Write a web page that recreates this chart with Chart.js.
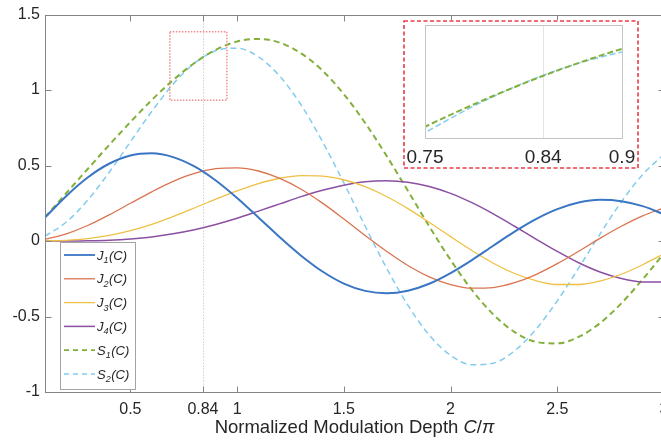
<!DOCTYPE html>
<html>
<head>
<meta charset="utf-8">
<script src="https://cdn.jsdelivr.net/npm/chart.js@4.4.1/dist/chart.umd.min.js"></script>
<style>
  html, body { margin: 0; padding: 0; background: #fff; overflow: hidden; }
  #wrap { position: relative; width: 670px; height: 446px; }
  #main { position: absolute; left: 0; top: 0; }
  #inset { position: absolute; left: 403px; top: 20px; }
</style>
</head>
<body>
<div id="wrap">
  <canvas id="main" width="670" height="446"></canvas>
  <canvas id="inset" width="236" height="149"></canvas>
</div>
<script>
// normalized modulation depth C/pi
const depth = [0.1, 0.2, 0.3, 0.4, 0.5, 0.6, 0.7, 0.8, 0.9, 1.0,
               1.1, 1.2, 1.3, 1.4, 1.5, 1.6, 1.7, 1.8, 1.9, 2.0,
               2.1, 2.2, 2.3, 2.4, 2.5, 2.6, 2.7, 2.8, 2.9, 3.0];

const j1 = [0.155, 0.299, 0.421, 0.512, 0.567, 0.581, 0.556, 0.494, 0.401, 0.285,
            0.156, 0.025, -0.097, -0.202, -0.282, -0.330, -0.346, -0.329, -0.283, -0.212,
            -0.126, -0.031, 0.062, 0.145, 0.211, 0.255, 0.273, 0.264, 0.231, 0.177];
const j2 = [0.012, 0.048, 0.103, 0.173, 0.250, 0.326, 0.395, 0.448, 0.479, 0.485,
            0.464, 0.415, 0.343, 0.251, 0.146, 0.037, -0.068, -0.162, -0.237, -0.288,
            -0.312, -0.308, -0.276, -0.222, -0.150, -0.068, 0.018, 0.098, 0.167, 0.219];
const j3 = [0.001, 0.005, 0.016, 0.037, 0.069, 0.111, 0.162, 0.219, 0.278, 0.333,
            0.381, 0.416, 0.433, 0.430, 0.406, 0.360, 0.295, 0.215, 0.124, 0.029,
            -0.063, -0.147, -0.215, -0.263, -0.288, -0.288, -0.265, -0.220, -0.157, -0.084];
const j4 = [0.000, 0.000, 0.002, 0.006, 0.014, 0.027, 0.048, 0.075, 0.110, 0.151,
            0.198, 0.246, 0.294, 0.336, 0.370, 0.393, 0.400, 0.390, 0.361, 0.316,
            0.254, 0.180, 0.098, 0.013, -0.069, -0.144, -0.205, -0.248, -0.271, -0.272];
const s1 = [0.159, 0.318, 0.477, 0.635, 0.788, 0.934, 1.066, 1.179, 1.267, 1.322,
            1.339, 1.314, 1.243, 1.129, 0.973, 0.782, 0.565, 0.333, 0.098, -0.125,
            -0.324, -0.486, -0.603, -0.668, -0.678, -0.635, -0.544, -0.413, -0.254, -0.081];
const s2 = [0.032, 0.126, 0.271, 0.454, 0.657, 0.858, 1.039, 1.178, 1.261, 1.277,
            1.220, 1.092, 0.901, 0.659, 0.385, 0.098, -0.179, -0.425, -0.623, -0.757,
            -0.820, -0.809, -0.727, -0.585, -0.396, -0.179, 0.046, 0.259, 0.440, 0.575];

// zoomed window around the working point
const insetDepth = [0.70, 0.75, 0.80, 0.85, 0.90, 0.95];
const insetS1 = [1.0660, 1.1254, 1.1793, 1.2267, 1.2668, 1.2989];
const insetS2 = [1.0385, 1.1144, 1.1780, 1.2273, 1.2610, 1.2777];

const xTickVals = [0.5, 0.84, 1, 1.5, 2, 2.5, 3];
const yTickVals = [-1, -0.5, 0, 0.5, 1, 1.5];
const insetTickVals = [0.75, 0.84, 0.9];
const markDepth = 0.84;
const zoomBox = [0.685, 0.952, 0.932, 1.386]; // x0, x1, y0, y1 in data units

const seriesNames = [['J', '1'], ['J', '2'], ['J', '3'], ['J', '4'], ['S', '1'], ['S', '2']];

const FONT = "'Liberation Sans', Arial, sans-serif";
Chart.defaults.font.family = FONT;
Chart.defaults.color = '#262626';

const pts = (xs, ys) => xs.map((x, i) => ({ x: x, y: ys[i] }));

const lineStyle = [
  { color: '#3b76c4', width: 2.0, dash: [] },
  { color: '#da7450', width: 1.3, dash: [] },
  { color: '#eec044', width: 1.3, dash: [] },
  { color: '#8b50a2', width: 1.5, dash: [] },
  { color: '#82b03a', width: 2.0, dash: [6, 4] },
  { color: '#84ccef', width: 1.5, dash: [6, 4] }
];

const mainData = [j1, j2, j3, j4, s1, s2];

// box, inward ticks, guide line, zoom marker, legend, axis title
const frame = {
  id: 'frame',
  beforeDatasetsDraw(chart) {
    const { ctx, chartArea: a, scales: { x } } = chart;
    const px = Math.round(x.getPixelForValue(markDepth)) + 0.5;
    ctx.save();
    ctx.strokeStyle = '#b8b8b8';
    ctx.lineWidth = 1;
    ctx.setLineDash([1, 2]);
    ctx.beginPath();
    ctx.moveTo(px, a.top);
    ctx.lineTo(px, a.bottom);
    ctx.stroke();
    ctx.restore();
  },
  afterDatasetsDraw(chart) {
    const { ctx, chartArea: a, scales: { x, y } } = chart;
    ctx.save();

    // zoom marker
    const zx0 = x.getPixelForValue(zoomBox[0]), zx1 = x.getPixelForValue(zoomBox[1]);
    const zy0 = y.getPixelForValue(zoomBox[2]), zy1 = y.getPixelForValue(zoomBox[3]);
    ctx.strokeStyle = '#f08c8c';
    ctx.lineWidth = 1.5;
    ctx.setLineDash([1.5, 1.5]);
    ctx.strokeRect(zx0, zy1, zx1 - zx0, zy0 - zy1);
    ctx.setLineDash([]);

    // axes box
    ctx.strokeStyle = '#858585';
    ctx.lineWidth = 1;
    const L = Math.round(a.left) + 0.5, R = Math.round(a.right) + 0.5;
    const T = Math.round(a.top) + 0.5, B = Math.round(a.bottom) + 0.5;
    ctx.strokeRect(L, T, R - L, B - T);
    const tl = 6;
    ctx.beginPath();
    xTickVals.forEach(v => {
      const px = Math.round(x.getPixelForValue(v)) + 0.5;
      ctx.moveTo(px, B); ctx.lineTo(px, B - tl);
      ctx.moveTo(px, T); ctx.lineTo(px, T + tl);
    });
    yTickVals.forEach(v => {
      const py = Math.round(y.getPixelForValue(v)) + 0.5;
      ctx.moveTo(L, py); ctx.lineTo(L + tl, py);
      ctx.moveTo(R, py); ctx.lineTo(R - tl, py);
    });
    ctx.stroke();

    // legend
    const lx = 60.5, ly = 242.5, lw = 75, lh = 147;
    ctx.fillStyle = '#ffffff';
    ctx.fillRect(lx, ly, lw, lh);
    ctx.strokeStyle = '#a3a3a3';
    ctx.strokeRect(lx, ly, lw, lh);
    chart.data.datasets.forEach((ds, i) => {
      const cy = 255 + i * 23.8;
      ctx.strokeStyle = ds.borderColor;
      ctx.lineWidth = Math.min(ds.borderWidth, 1.8);
      ctx.setLineDash(ds.borderDash.length ? [5, 4] : []);
      ctx.beginPath();
      ctx.moveTo(64, cy); ctx.lineTo(95, cy);
      ctx.stroke();
      ctx.setLineDash([]);
      const [sym, sub] = seriesNames[i];
      ctx.fillStyle = '#262626';
      ctx.textBaseline = 'alphabetic';
      ctx.textAlign = 'left';
      let tx = 97;
      ctx.font = 'italic 13px ' + FONT;
      ctx.fillText(sym, tx, cy + 4.5);
      tx += ctx.measureText(sym).width;
      ctx.font = 'italic 9px ' + FONT;
      ctx.fillText(sub, tx, cy + 8);
      tx += ctx.measureText(sub).width + 0.5;
      ctx.font = 'italic 13px ' + FONT;
      ctx.fillText('(C)', tx, cy + 4.5);
    });

    // x axis title
    const parts = [['Normalized Modulation Depth ', ''], ['C', 'italic '], ['/', ''], ['\u03c0', 'italic ']];
    const size = 18.5;
    let total = 0;
    parts.forEach(([t, st]) => { ctx.font = st + size + 'px ' + FONT; total += ctx.measureText(t).width; });
    let tx = (a.left + a.right) / 2 - total / 2;
    ctx.fillStyle = '#262626';
    ctx.textBaseline = 'alphabetic';
    parts.forEach(([t, st]) => {
      ctx.font = st + size + 'px ' + FONT;
      ctx.fillText(t, tx, 433);
      tx += ctx.measureText(t).width;
    });
    ctx.restore();
  }
};

new Chart(document.getElementById('main'), {
  type: 'line',
  data: {
    datasets: mainData.map((vals, i) => ({
      data: pts(depth, vals),
      borderColor: lineStyle[i].color,
      borderWidth: lineStyle[i].width,
      borderDash: lineStyle[i].dash,
      cubicInterpolationMode: 'monotone',
      pointRadius: 0,
      fill: false
    }))
  },
  options: {
    responsive: false,
    animation: false,
    layout: { padding: { left: 0, top: 12, right: 6, bottom: 0 } },
    plugins: { legend: { display: false }, tooltip: { enabled: false } },
    scales: {
      x: {
        type: 'linear', min: 0.1, max: 3,
        grid: { display: false, drawTicks: false },
        border: { display: false },
        afterBuildTicks: s => { s.ticks = xTickVals.map(v => ({ value: v })); },
        afterFit: s => { s.height = 54; s.paddingLeft = 0; s.paddingRight = 0; },
        ticks: { autoSkip: false, maxRotation: 0, padding: 8, font: { size: 16 }, color: '#262626', callback: v => String(v) }
      },
      y: {
        type: 'linear', min: -1, max: 1.5,
        grid: { display: false, drawTicks: false },
        border: { display: false },
        afterBuildTicks: s => { s.ticks = yTickVals.map(v => ({ value: v })); },
        afterFit: s => { s.width = 45; },
        ticks: { padding: 5, font: { size: 16 }, color: '#262626', callback: v => String(v) }
      }
    }
  },
  plugins: [frame]
});

// inset: white panel, light axes box, red dashed outline
const insetFrame = {
  id: 'insetFrame',
  beforeDraw(chart) {
    const { ctx, width, height } = chart;
    ctx.save();
    ctx.fillStyle = '#ffffff';
    ctx.fillRect(0, 0, width, height);
    ctx.restore();
  },
  beforeDatasetsDraw(chart) {
    const { ctx, chartArea: a, scales: { x } } = chart;
    const px = Math.round(x.getPixelForValue(markDepth)) + 0.5;
    ctx.save();
    ctx.strokeStyle = '#e4e4e4';
    ctx.lineWidth = 1;
    ctx.beginPath();
    ctx.moveTo(px, a.top); ctx.lineTo(px, a.bottom);
    ctx.stroke();
    ctx.restore();
  },
  afterDatasetsDraw(chart) {
    const { ctx, chartArea: a, width, height } = chart;
    ctx.save();
    ctx.strokeStyle = '#c4c4c4';
    ctx.lineWidth = 1;
    const L = Math.round(a.left) + 0.5, R = Math.round(a.right) + 0.5;
    const T = Math.round(a.top) + 0.5, B = Math.round(a.bottom) + 0.5;
    ctx.strokeRect(L, T, R - L, B - T);
    ctx.strokeStyle = '#ec3b45';
    ctx.lineWidth = 1.6;
    ctx.setLineDash([4, 2.5]);
    ctx.strokeRect(1, 1, width - 2, height - 2);
    ctx.restore();
  }
};

new Chart(document.getElementById('inset'), {
  type: 'line',
  data: {
    datasets: [insetS1, insetS2].map((vals, i) => ({
      data: pts(insetDepth, vals),
      borderColor: lineStyle[4 + i].color,
      borderWidth: lineStyle[4 + i].width,
      borderDash: [6, 3],
      cubicInterpolationMode: 'monotone',
      pointRadius: 0,
      fill: false
    }))
  },
  options: {
    responsive: false,
    animation: false,
    layout: { padding: { left: 22, top: 5, right: 17, bottom: 0 } },
    plugins: { legend: { display: false }, tooltip: { enabled: false } },
    scales: {
      x: {
        type: 'linear', min: 0.75, max: 0.9,
        grid: { display: false, drawTicks: false },
        border: { display: false },
        afterBuildTicks: s => { s.ticks = insetTickVals.map(v => ({ value: v })); },
        afterFit: s => { s.height = 31; s.paddingLeft = 0; s.paddingRight = 0; },
        ticks: { autoSkip: false, maxRotation: 0, padding: 8, font: { size: 19 }, color: '#262626', callback: v => String(v) }
      },
      y: { display: false, min: 1.105, max: 1.31 }
    }
  },
  plugins: [insetFrame]
});
</script>
</body>
</html>
